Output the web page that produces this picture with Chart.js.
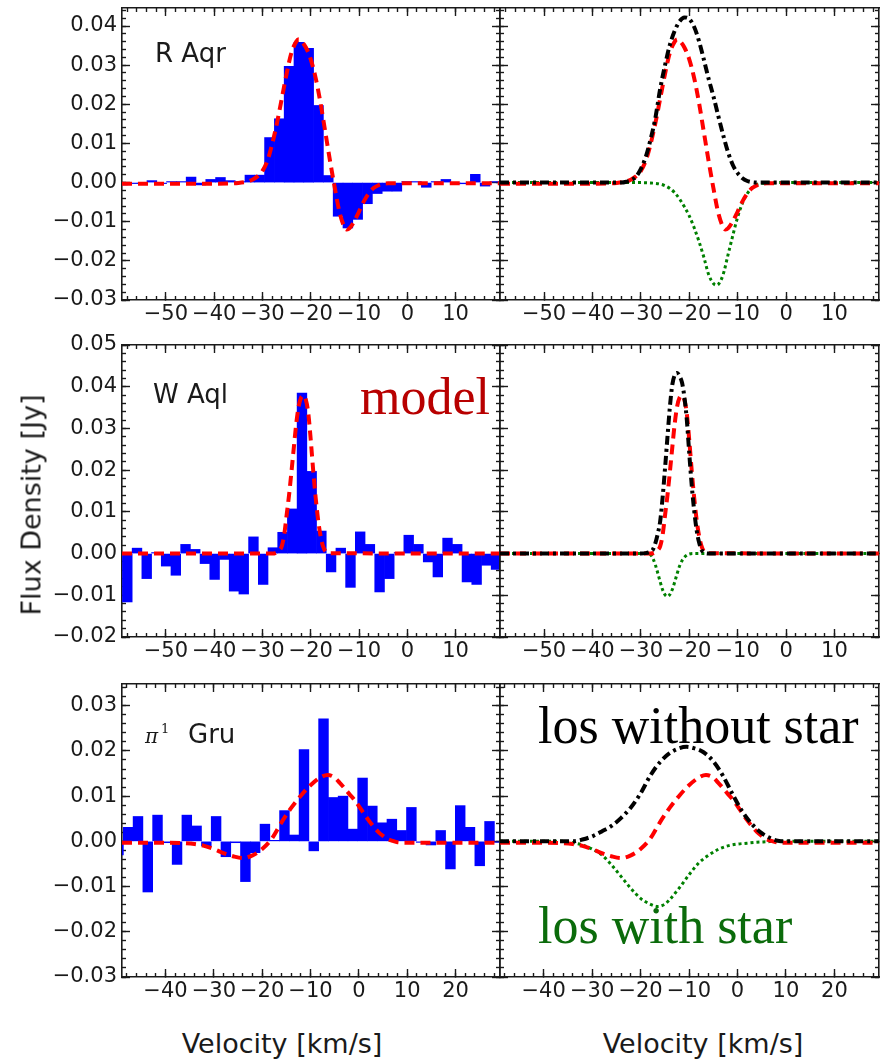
<!DOCTYPE html>
<html lang="en">
<head>
<meta charset="utf-8">
<title>CO line profiles</title>
<script src="https://cdn.jsdelivr.net/npm/chart.js@4.4.1/dist/chart.umd.min.js"></script>
<style>
    html, body { margin: 0; padding: 0; background: #fff; }
    body { position: relative; width: 886px; height: 1060px; overflow: hidden; }
    .panel { position: absolute; }
    .col-obs { left: 0; width: 506px; }
    .col-mod { left: 494px; width: 391px; }
    .row-1 { top: -6px; height: 346px; }
    .row-2 { top: 331px; height: 346px; }
    .row-3 { top: 670px; height: 347px; }
    .txt { position: absolute; white-space: nowrap; line-height: 1; }
    .sans { font-family: 'DejaVu Sans', sans-serif; color: #1a1a1a; }
    .name { font-size: 26px; }
    .axis-title { font-size: 27px; }
    .note { font-family: 'Liberation Serif', 'Times New Roman', serif; font-size: 52px; }
</style>
</head>
<body>
<div class="panel col-obs row-1"><canvas id="raqr-obs"></canvas></div>
<div class="panel col-mod row-1"><canvas id="raqr-mod"></canvas></div>
<div class="panel col-obs row-2"><canvas id="waql-obs"></canvas></div>
<div class="panel col-mod row-2"><canvas id="waql-mod"></canvas></div>
<div class="panel col-obs row-3"><canvas id="pgru-obs"></canvas></div>
<div class="panel col-mod row-3"><canvas id="pgru-mod"></canvas></div>

<div class="txt sans name" style="left:155px; top:40px;">R Aqr</div>
<div class="txt sans name" style="left:153px; top:381px;">W Aql</div>
<div class="txt" style="left:145px; top:726px; font-family:'DejaVu Serif', serif; font-style:italic; font-size:20px; color:#1a1a1a;">π</div>
<div class="txt" style="left:161px; top:722px; font-family:'DejaVu Serif', serif; font-size:13px; color:#1a1a1a;">1</div>
<div class="txt sans name" style="left:188px; top:721px;">Gru</div>

<div class="txt note" style="left:360px; top:371px; color:#b80000;">model</div>
<div class="txt note" style="left:538px; top:700px; color:#000;">los without star</div>
<div class="txt note" style="left:538px; top:900px; color:#0b6b0b;">los with star</div>

<div class="txt sans axis-title" style="left:31px; top:505px; transform: translate(-50%, -50%) rotate(-90deg);">Flux Density [Jy]</div>
<div class="txt sans axis-title" style="left:282px; top:1030px; transform: translateX(-50%);">Velocity [km/s]</div>
<div class="txt sans axis-title" style="left:703px; top:1030px; transform: translateX(-50%);">Velocity [km/s]</div>

<script>
(function () {
    "use strict";

    Chart.defaults.font.family = "'DejaVu Sans', sans-serif";

    // ---------- R Aqr ----------
    // channel centres (km/s) and observed flux density (Jy)
    const raqrVel = [-59.00, -56.97, -54.94, -52.91, -50.88, -48.85, -46.82, -44.79, -42.76, -40.73,
        -38.70, -36.67, -34.64, -32.61, -30.58, -28.55, -26.52, -24.49, -22.46, -20.43,
        -18.40, -16.37, -14.34, -12.31, -10.28, -8.25, -6.22, -4.19, -2.16, -0.13,
        1.90, 3.93, 5.96, 7.99, 10.02, 12.05, 14.08, 16.11, 18.14, 20.17];
    const raqrFlux = [-0.0006, -0.0002, -0.0001, 0.0005, -0.0002, 0.0002, 0.0002, 0.0014, -0.0006, 0.0008,
        0.0013, 0.0005, 0.0002, 0.0019, 0.0019, 0.0115, 0.0163, 0.0297, 0.0358, 0.0343,
        0.0197, 0.0018, -0.0086, -0.0116, -0.0094, -0.0054, -0.0028, -0.0022, -0.0022, 0.0002,
        0.0002, -0.0012, 0.0002, 0.0008, -0.0003, -0.0003, 0.0021, -0.0009, 0.0002, -0.0018];

    const raqrModelVel = [-59.1, -50, -40, -35, -33, -32, -31, -30, -29, -28, -27, -26, -25, -24, -23,
        -22.5, -22, -21, -20, -19, -18, -17, -16, -15, -14, -13, -12.5, -12, -11, -10,
        -9, -8, -7, -6, -5, -4, 0, 10, 19.2];
    const raqrModelFlux = [-0.0003, -0.0003, -0.0003, -0.0001, 0.0003, 0.0008, 0.0016, 0.0030, 0.0055, 0.0098,
        0.0152, 0.0215, 0.0278, 0.0332, 0.0360, 0.0366, 0.0362, 0.0345, 0.0315, 0.0268,
        0.0205, 0.0130, 0.0055, -0.0015, -0.0078, -0.0114, -0.0120, -0.0117, -0.0099, -0.0074,
        -0.0048, -0.0028, -0.0014, -0.0007, -0.0003, -0.0002, -0.0002, -0.0002, -0.0002];

    const raqrNoStarVel = [-59.1, -40, -34, -33, -32, -31, -30, -29, -28, -27, -26, -25, -24, -23, -22,
        -21, -20, -19, -18, -17, -16, -15, -14, -13, -12, -11, -10, -9, -8, -7, -6, 0, 19.2];
    const raqrNoStarFlux = [0, 0, 0, 0.0002, 0.0006, 0.0015, 0.0035, 0.0065, 0.0110, 0.0165, 0.0240, 0.0300,
        0.0352, 0.0388, 0.0412, 0.0422, 0.0418, 0.0398, 0.0362, 0.0315, 0.0265, 0.0220, 0.0170,
        0.0122, 0.0078, 0.0045, 0.0024, 0.0011, 0.0004, 0.0001, 0, 0, 0];

    const raqrStarVel = [-59.1, -30, -28, -27, -26, -25, -24, -23, -22, -21, -20, -19, -18, -17, -16,
        -15, -14.5, -14, -13, -12, -11, -10, -9, -8, -7, -6, -5, 0, 19.2];
    const raqrStarFlux = [0, 0, -0.0001, -0.0002, -0.0004, -0.0008, -0.0015, -0.0026, -0.0042, -0.0062,
        -0.0085, -0.0115, -0.0150, -0.0190, -0.0235, -0.0258, -0.0262, -0.0260, -0.0235, -0.0185,
        -0.0135, -0.0088, -0.0052, -0.0028, -0.0013, -0.0005, -0.0002, 0, 0];

    // ---------- W Aql ----------
    const waqlVel = [-58.00, -55.99, -53.98, -51.97, -49.96, -47.95, -45.94, -43.93, -41.92, -39.91,
        -37.90, -35.89, -33.88, -31.87, -29.86, -27.85, -25.84, -23.83, -21.82, -19.81,
        -17.80, -15.79, -13.78, -11.77, -9.76, -7.75, -5.74, -3.73, -1.72, 0.29,
        2.30, 4.31, 6.32, 8.33, 10.34, 12.35, 14.36, 16.37, 18.38, 20.39];
    const waqlFlux = [-0.0116, 0.0013, -0.0060, 0.0002, -0.0030, -0.0052, 0.0022, 0.0010, -0.0024, -0.0062,
        -0.0014, -0.0090, -0.0097, 0.0040, -0.0074, 0.0014, 0.0051, 0.0107, 0.0385, 0.0197,
        0.0054, -0.0044, 0.0013, -0.0081, 0.0052, 0.0022, -0.0092, -0.0060, 0.0002, 0.0044,
        0.0022, -0.0020, -0.0056, 0.0037, 0.0022, -0.0068, -0.0074, -0.0028, -0.0038, -0.0020];

    const waqlModelVel = [-59.1, -30, -28, -27, -26.5, -26, -25.5, -25, -24.5, -24, -23.5, -23, -22.5,
        -22, -21.5, -21, -20.5, -20, -19.5, -19, -18.5, -18, -17.5, -17, -16, 19.2];
    const waqlModelFlux = [0, 0, 0, 0.0003, 0.0008, 0.0018, 0.0045, 0.0092, 0.0140, 0.0196, 0.0255, 0.0312,
        0.0353, 0.0374, 0.0378, 0.0368, 0.0335, 0.0272, 0.0200, 0.0136, 0.0083, 0.0044, 0.0019,
        0.0006, 0.0001, 0];

    const waqlNoStarVel = [-59.1, -30, -29, -28, -27.5, -27, -26.5, -26, -25.5, -25, -24.5, -24, -23.5,
        -23, -22.5, -22, -21.5, -21, -20.5, -20, -19.5, -19, -18.5, -18, -17.5, -17, -16, 19.2];
    const waqlNoStarFlux = [0, 0, 0.0001, 0.0005, 0.0010, 0.0025, 0.0048, 0.0078, 0.0135, 0.0205, 0.0280,
        0.0352, 0.0405, 0.0428, 0.0433, 0.0425, 0.0410, 0.0375, 0.0320, 0.0240, 0.0165, 0.0105,
        0.0058, 0.0028, 0.0010, 0.0003, 0, 0];

    const waqlStarVel = [-59.1, -29, -28, -27.5, -27, -26.5, -26, -25.5, -25, -24.5, -24, -23.5, -23,
        -22.5, -22, -21.5, -21, -20.5, -20, -19, 19.2];
    const waqlStarFlux = [0, 0, -0.0003, -0.0012, -0.0027, -0.0047, -0.0068, -0.0087, -0.0099, -0.0103,
        -0.0098, -0.0086, -0.0068, -0.0048, -0.0030, -0.0017, -0.0009, -0.0004, -0.0001, 0, 0];

    // ---------- pi1 Gru ----------
    const pgruVel = [-49.73, -47.71, -45.69, -43.67, -41.65, -39.63, -37.61, -35.59, -33.57, -31.55,
        -29.53, -27.51, -25.49, -23.47, -21.45, -19.43, -17.41, -15.39, -13.37, -11.35,
        -9.33, -7.31, -5.29, -3.27, -1.25, 0.77, 2.79, 4.81, 6.83, 8.85,
        10.87, 12.89, 14.91, 16.93, 18.95, 20.97, 22.99, 25.01, 27.03, 29.05];
    const pgruFlux = [-0.0030, 0.0031, 0.0055, -0.0112, 0.0058, -0.0003, -0.0051, 0.0058, 0.0034, -0.0010,
        0.0055, -0.0034, -0.0003, -0.0089, -0.0025, 0.0038, 0.0002, 0.0068, 0.0014, 0.0203,
        -0.0021, 0.0271, 0.0097, 0.0100, 0.0027, 0.0140, 0.0078, 0.0041, 0.0049, 0.0024,
        0.0075, -0.0002, -0.0008, 0.0024, -0.0061, 0.0079, 0.0031, -0.0054, 0.0044, -0.0002];

    const pgruModelVel = [-49.0, -40, -36, -34, -32, -30, -28, -26, -24, -22, -20, -18, -16, -14, -12,
        -10, -8, -6.5, -5, -4, -3, -2, -1, 0, 1, 2, 3, 4, 5, 6, 7, 8, 10, 29.2];
    const pgruModelFlux = [-0.0003, -0.0003, -0.0004, -0.0006, -0.0010, -0.0017, -0.0026, -0.0033, -0.0037,
        -0.0031, -0.0017, 0.0006, 0.0042, 0.0074, 0.0101, 0.0124, 0.0141, 0.0147, 0.0141, 0.0130,
        0.0118, 0.0105, 0.0093, 0.0078, 0.0062, 0.0047, 0.0033, 0.0021, 0.0012, 0.0005, 0.0001,
        -0.0002, -0.0003, -0.0003];

    const pgruNoStarVel = [-49.0, -34, -32, -30, -28, -26, -24, -22, -20, -18, -16, -14, -12, -10.5, -9,
        -7, -5, -3, -1, 1, 3, 5, 7, 8, 9, 29.2];
    const pgruNoStarFlux = [0, 0, 0.0004, 0.0011, 0.0022, 0.0034, 0.0052, 0.0075, 0.0106, 0.0145, 0.0175,
        0.0195, 0.0206, 0.0209, 0.0206, 0.0197, 0.0177, 0.0145, 0.0104, 0.0066, 0.0038, 0.0018,
        0.0006, 0.0002, 0, 0];

    const pgruStarVel = [-49.0, -36, -34, -32, -30, -28, -26, -24, -22, -20, -18, -16.5, -15, -14, -12,
        -10, -8, -6, -4, -2, 0, 2, 4, 6, 8, 29.2];
    const pgruStarFlux = [0, 0, -0.0003, -0.0008, -0.0017, -0.0030, -0.0052, -0.0078, -0.0104, -0.0126,
        -0.0139, -0.0144, -0.0139, -0.0129, -0.0103, -0.0074, -0.0048, -0.0031, -0.0018, -0.0010,
        -0.0006, -0.0004, -0.0002, -0.0001, 0, 0];

    // axis limits
    const velRangeAW = [-59.1, 19.2];
    const velRangeGru = [-49.0, 29.2];
    const fluxRangeRAqr = [-0.03, 0.0446];
    const fluxRangeWAql = [-0.02, 0.05];
    const fluxRangeGru = [-0.03, 0.0348];

    const ink = '#1a1a1a';
    const tickFont = { family: "'DejaVu Sans', sans-serif", size: 21 };

    function points(vel, flux) {
        return vel.map((v, i) => ({ x: v, y: flux[i] }));
    }

    // tick labels use a real minus sign
    function fmtVel(value) {
        return (value < 0 ? '\u2212' : '') + Math.abs(value);
    }

    function fmtFlux(value) {
        return (value < -1e-9 ? '\u2212' : '') + Math.abs(value).toFixed(2);
    }

    // One linear axis that only draws inward tick marks (and optionally labels).
    // Boxes get fixed sizes and no label padding so every panel frame lines up.
    function tickAxis(axis, position, range, step, len, size, weight, labels) {
        const ticks = {
            display: !!labels,
            stepSize: step,
            includeBounds: false,
            autoSkip: false,
            maxRotation: 0,
            minRotation: 0,
            padding: axis === 'x' ? 10 : 13,
            font: tickFont,
            color: ink
        };
        if (labels) ticks.callback = labels;
        return {
            type: 'linear',
            axis: axis,
            position: position,
            display: true,
            weight: weight,
            min: range[0],
            max: range[1],
            offset: false,
            grid: {
                display: true,
                offset: false,
                drawOnChartArea: false,
                drawTicks: true,
                tickLength: -len,
                tickWidth: 1.4,
                tickColor: ink
            },
            border: { display: weight > 0, color: ink, width: 1.6 },
            ticks: ticks,
            afterFit: function (scale) {
                if (axis === 'x') scale.height = size;
                else scale.width = size;
                scale.paddingTop = 0;
                scale.paddingBottom = 0;
                scale.paddingLeft = 0;
                scale.paddingRight = 0;
            }
        };
    }

    function panelScales(xr, yr, leftWidth, withFluxLabels) {
        return {
            x: tickAxis('x', 'bottom', xr, 10, 8, 40, 1, fmtVel),
            xMinor: tickAxis('x', 'bottom', xr, 2, 4, 0, 0),
            xTop: tickAxis('x', 'top', xr, 10, 8, 14, 1),
            xTopMinor: tickAxis('x', 'top', xr, 2, 4, 0, 0),
            y: tickAxis('y', 'left', yr, 0.01, 8, leftWidth, 1, withFluxLabels ? fmtFlux : null),
            yMinor: tickAxis('y', 'left', yr, 0.002, 4, 0, 0),
            yRight: tickAxis('y', 'right', yr, 0.01, 8, 6, 1),
            yRightMinor: tickAxis('y', 'right', yr, 0.002, 4, 0, 0)
        };
    }

    function lineSet(vel, flux, color, width, dash, order) {
        return {
            type: 'line',
            data: points(vel, flux),
            borderColor: color,
            borderWidth: width,
            borderDash: dash,
            pointRadius: 0,
            fill: false,
            cubicInterpolationMode: 'monotone',
            order: order
        };
    }

    // observed spectrum as bars plus the red model on top
    function obsSets(vel, flux, modelVel, modelFlux) {
        return [
            {
                type: 'bar',
                data: points(vel, flux),
                backgroundColor: '#0000ff',
                borderWidth: 0,
                barPercentage: 1,
                categoryPercentage: 1,
                minBarLength: 1,
                order: 1
            },
            lineSet(modelVel, modelFlux, '#ff0000', 4, [10, 6], 0)
        ];
    }

    // model split into line of sight with / without the star
    function modelSets(modelVel, modelFlux, noStarVel, noStarFlux, starVel, starFlux) {
        return [
            lineSet(noStarVel, noStarFlux, '#000000', 4, [9, 4, 3, 4], 0),
            lineSet(modelVel, modelFlux, '#ff0000', 4, [10, 6], 1),
            lineSet(starVel, starFlux, '#008000', 3, [3, 3], 2)
        ];
    }

    function makePanel(id, datasets, xr, yr, isObs) {
        return new Chart(document.getElementById(id), {
            type: 'line',
            data: { datasets: datasets },
            options: {
                responsive: true,
                maintainAspectRatio: false,
                animation: false,
                events: [],
                layout: { padding: 0 },
                plugins: {
                    legend: { display: false },
                    tooltip: { enabled: false }
                },
                scales: panelScales(xr, yr, isObs ? 122 : 6, isObs)
            }
        });
    }

    makePanel('raqr-obs', obsSets(raqrVel, raqrFlux, raqrModelVel, raqrModelFlux), velRangeAW, fluxRangeRAqr, true);
    makePanel('raqr-mod', modelSets(raqrModelVel, raqrModelFlux, raqrNoStarVel, raqrNoStarFlux, raqrStarVel, raqrStarFlux), velRangeAW, fluxRangeRAqr, false);

    makePanel('waql-obs', obsSets(waqlVel, waqlFlux, waqlModelVel, waqlModelFlux), velRangeAW, fluxRangeWAql, true);
    makePanel('waql-mod', modelSets(waqlModelVel, waqlModelFlux, waqlNoStarVel, waqlNoStarFlux, waqlStarVel, waqlStarFlux), velRangeAW, fluxRangeWAql, false);

    makePanel('pgru-obs', obsSets(pgruVel, pgruFlux, pgruModelVel, pgruModelFlux), velRangeGru, fluxRangeGru, true);
    makePanel('pgru-mod', modelSets(pgruModelVel, pgruModelFlux, pgruNoStarVel, pgruNoStarFlux, pgruStarVel, pgruStarFlux), velRangeGru, fluxRangeGru, false);
})();
</script>
</body>
</html>
